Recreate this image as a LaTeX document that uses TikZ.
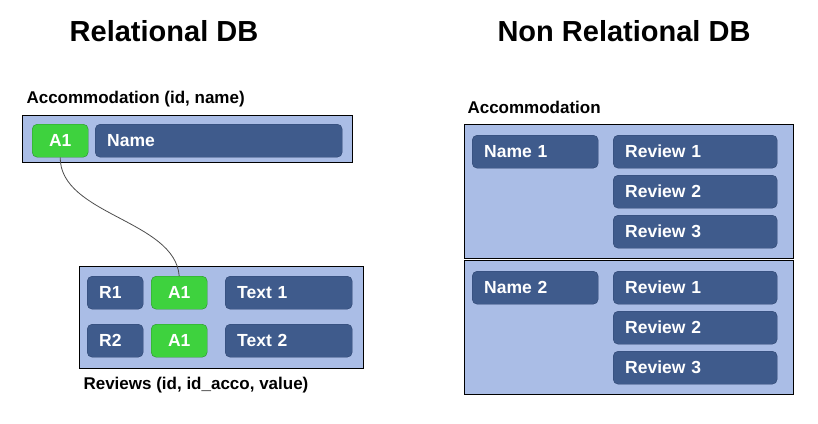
\documentclass[tikz,border=0pt]{standalone}
\usepackage{fontspec}
\setmainfont{Liberation Sans}
\definecolor{panelfill}{HTML}{AABDE6}
\definecolor{cellfill}{HTML}{3F5B8C}
\definecolor{cellline}{HTML}{2C4470}
\definecolor{keyfill}{HTML}{3ED23E}
\definecolor{keyline}{HTML}{2A8F2A}
\tikzset{
  panel/.style={draw=black, fill=panelfill, line width=0.9pt,
    anchor=north west, inner sep=0pt},
  cell/.style={draw=cellline, fill=cellfill, rounded corners=5pt,
    anchor=north west, minimum height=33pt, inner xsep=12pt,
    inner ysep=0pt, text width=#1, align=left, text=white,
    font=\fontsize{17.5}{20}\selectfont\bfseries},
  keycell/.style={cell=#1, draw=keyline, fill=keyfill, align=center,
    inner xsep=0pt},
  title/.style={font=\fontsize{29}{32}\selectfont\bfseries},
  caption/.style={font=\fontsize{17}{19}\selectfont\bfseries, anchor=west}
}
\begin{document}
\begin{tikzpicture}[x=1pt, y=-1pt]
\useasboundingbox (0,0) rectangle (818,423);

% titles
\node[title] (reltitle) at (164,31) {Relational DB};
\node[title] (nonreltitle) at (624,31) {Non Relational DB};

% relational side
\node[caption] (accolabel) at (23,99) {Accommodation (id, name)};
\node[panel, minimum width=330pt, minimum height=47pt] (accobox) at (22,115) {};
\node[keycell=56pt] (accoKey) at (32,124) {A1};
\node[cell=223pt] (accoName) at (95,124) {Name};

\node[panel, minimum width=284pt, minimum height=102pt] (revbox) at (79,266) {};
\node[cell=32pt] (revId1) at (87,276) {R1};
\node[keycell=56pt] (revKey1) at (151,276) {A1};
\node[cell=103pt] (revText1) at (225,276) {Text 1};
\node[cell=32pt] (revId2) at (87,324) {R2};
\node[keycell=56pt] (revKey2) at (151,324) {A1};
\node[cell=103pt] (revText2) at (225,324) {Text 2};
\node[caption] (revlabel) at (80,385) {Reviews (id, id\_acco, value)};

\draw[gray!60!black, line width=0.8pt] (accoKey.south)
  .. controls (60,215) and (175,220) .. (revKey1.north);

% non relational side
\node[caption] (doclabel) at (464,107) {Accommodation};
\foreach \n/\y in {1/124, 2/260} {
  \node[panel, minimum width=329pt, minimum height=134pt] (doc\n) at (464,\y) {};
  \node[cell=102pt] (docName\n) at (472,\y+11) {Name \n};
  \foreach \r in {1,2,3} {
    \node[cell=140pt] (docRev\n\r) at (613,\y+11+40*\r-40) {Review \r};
  }
}
\end{tikzpicture}
\end{document}
